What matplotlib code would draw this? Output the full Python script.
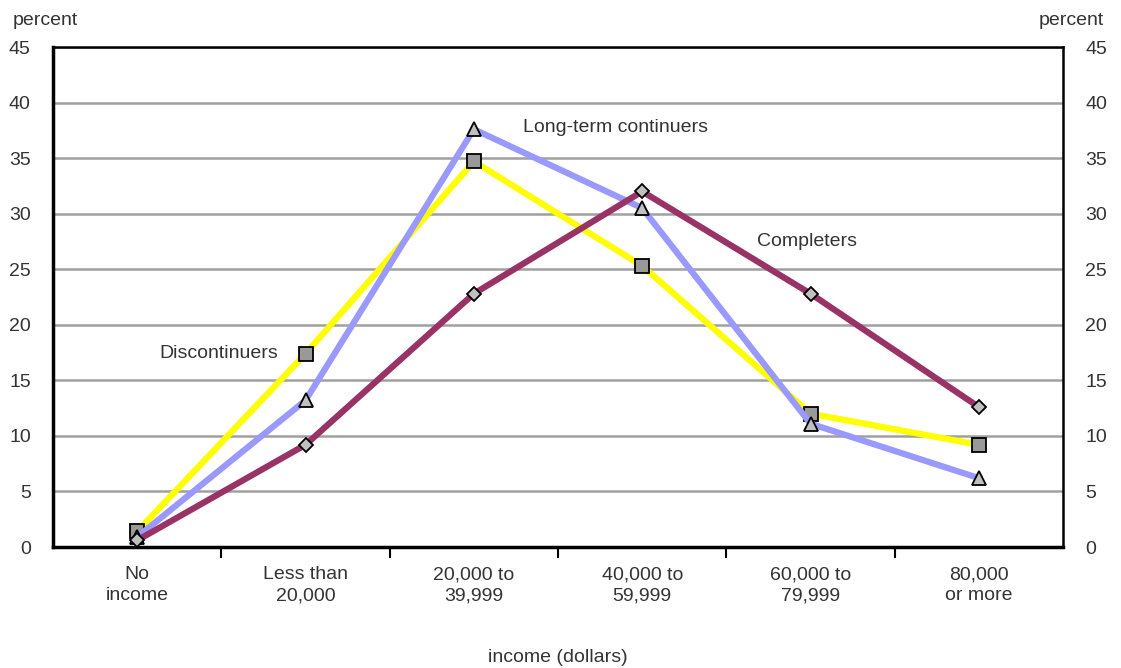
import numpy as np
import matplotlib.pyplot as plt

# income groups and percent of each group in the category
categories = ['No\nincome', 'Less than\n20,000', '20,000 to\n39,999',
              '40,000 to\n59,999', '60,000 to\n79,999', '80,000\nor more']
discontinuers = [1.4, 17.4, 34.7, 25.3, 12.0, 9.2]
long_term = [0.9, 13.2, 37.6, 30.5, 11.1, 6.2]
completers = [0.6, 9.2, 22.8, 32.0, 22.8, 12.6]
yticks = [0, 5, 10, 15, 20, 25, 30, 35, 40, 45]

plt.rcParams['font.family'] = ['Liberation Sans', 'DejaVu Sans']
txt = '#333333'
fs = 14

fig = plt.figure(figsize=(11.21, 6.68), dpi=100)
ax = fig.add_axes([0.0473, 0.1811, 0.9010, 0.7485])

x = np.arange(len(categories))
ax.plot(x, discontinuers, color='#ffff00', lw=4.5, marker='s', ms=10,
        mfc='#999999', mec='black', mew=1.3, zorder=3)
ax.plot(x, long_term, color='#9999ff', lw=4.5, marker='^', ms=10,
        mfc='#c0c0c0', mec='black', mew=1.3, zorder=4)
ax.plot(x, completers, color='#993366', lw=4.5, marker='D', ms=7.5,
        mfc='#c0c0c0', mec='black', mew=1.3, zorder=5)

ax.set_xlim(-0.5, len(categories) - 0.5)
ax.set_ylim(0, 45)
ax.set_yticks(yticks)
ax.yaxis.grid(True, color='#a0a0a0', lw=1.8)
ax.set_axisbelow(True)

# x ticks sit between categories, labels centered under each point
ax.set_xticks(np.arange(len(categories) - 1) + 0.5)
ax.set_xticklabels([])
ax.set_xticks(x, minor=True)
ax.set_xticklabels(categories, minor=True, fontsize=fs, color=txt, linespacing=1.3)
ax.tick_params(axis='x', which='major', direction='out', length=8, width=1.5, color='black')
ax.tick_params(axis='x', which='minor', length=0, pad=14)
ax.tick_params(axis='y', length=0, labelsize=fs, labelcolor=txt, pad=16)
ax.tick_params(axis='y', labelright=True)

for s in ['left', 'bottom']:
    ax.spines[s].set_linewidth(2.5)
for s in ['top', 'right']:
    ax.spines[s].set_linewidth(1.8)

fig.text(0.011, 0.97, 'percent', fontsize=fs, color=txt, va='center')
fig.text(0.985, 0.97, 'percent', fontsize=fs, color=txt, va='center', ha='right')
fig.text(0.498, 0.016, 'income (dollars)', fontsize=fs, color=txt, ha='center', va='center')

ax.text(2.29, 37.8, 'Long-term continuers', fontsize=fs, color=txt, va='center')
ax.text(3.68, 27.5, 'Completers', fontsize=fs, color=txt, va='center')
ax.text(0.13, 17.4, 'Discontinuers', fontsize=fs, color=txt, va='center')

fig.savefig('out.png', dpi=100)
